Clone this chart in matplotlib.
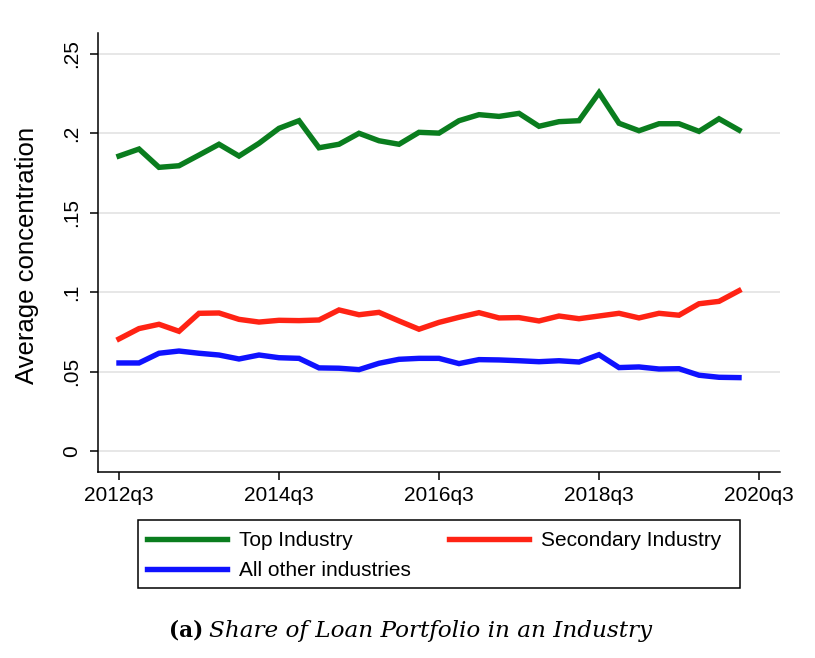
import numpy as np
import pandas as pd
import matplotlib
matplotlib.use("Agg")
import matplotlib.pyplot as plt
from matplotlib.patches import Rectangle

## quarterly data, 2012q3 - 2020q2

quarters = [str(p).lower() for p in pd.period_range("2012Q3", periods=32, freq="Q")]

top_industry = [0.1856, 0.1900, 0.1785, 0.1795, 0.1862, 0.1930, 0.1856, 0.1936,
                0.2030, 0.2078, 0.1908, 0.1930, 0.1999, 0.1952, 0.1930, 0.2005,
                0.2000, 0.2078, 0.2116, 0.2105, 0.2124, 0.2043, 0.2072, 0.2078,
                0.2254, 0.2062, 0.2015, 0.2059, 0.2059, 0.2011, 0.2090, 0.2019]

secondary_industry = [0.0707, 0.0772, 0.0799, 0.0755, 0.0868, 0.0870, 0.0830, 0.0813,
                      0.0824, 0.0822, 0.0826, 0.0889, 0.0859, 0.0874, 0.0820, 0.0768,
                      0.0811, 0.0843, 0.0872, 0.0839, 0.0841, 0.0820, 0.0851, 0.0834,
                      0.0851, 0.0868, 0.0839, 0.0868, 0.0856, 0.0928, 0.0943, 0.1010]

other_industries = [0.0556, 0.0556, 0.0617, 0.0631, 0.0617, 0.0606, 0.0581, 0.0606,
                    0.0589, 0.0585, 0.0525, 0.0523, 0.0514, 0.0554, 0.0579, 0.0585,
                    0.0585, 0.0552, 0.0577, 0.0575, 0.0570, 0.0564, 0.0570, 0.0562,
                    0.0608, 0.0527, 0.0531, 0.0518, 0.0520, 0.0479, 0.0466, 0.0464]

xtick_labels = ["2012q3", "2014q3", "2016q3", "2018q3", "2020q3"]
ytick_vals = [0, 0.05, 0.1, 0.15, 0.2, 0.25]
ytick_labels = ["0", ".05", ".1", ".15", ".2", ".25"]

## plot

plt.rcParams["font.family"] = ["Liberation Sans", "DejaVu Sans"]

fig = plt.figure(figsize=(8.15, 6.58), dpi=100)
ax = fig.add_axes([98/815, 186/658, 682/815, 439/658])

x = np.arange(len(quarters))
lw = 3.9
l_top, = ax.plot(x, top_industry, color="#0a7d1e", lw=lw, solid_joinstyle="miter")
l_sec, = ax.plot(x, secondary_industry, color="#ff2314", lw=lw, solid_joinstyle="miter")
l_oth, = ax.plot(x, other_industries, color="#0f12ff", lw=lw, solid_joinstyle="miter")

ax.set_xlim(-1.05, 33.05)
ax.set_ylim(-0.0129, 0.2629)

ax.set_xticks([0, 8, 16, 24, 32])
ax.set_xticklabels(xtick_labels, fontsize=15)
ax.set_yticks(ytick_vals)
ax.set_yticklabels(ytick_labels, fontsize=15, rotation=90, va="center")

ax.yaxis.grid(True, color="#e3e3e3", lw=1.2)
ax.set_axisbelow(True)
ax.spines["top"].set_visible(False)
ax.spines["right"].set_visible(False)
ax.spines["left"].set_linewidth(1.1)
ax.spines["bottom"].set_linewidth(1.1)
ax.tick_params(axis="both", length=6, width=1.1, direction="out")
ax.tick_params(axis="x", pad=4)
ax.tick_params(axis="y", pad=6)

fig.text(27/815, 1 - 255/658, "Average concentration", rotation=90,
         ha="center", va="center", fontsize=18.5)

# legend box drawn separately so its size matches
fig.patches.append(Rectangle((138/815, 1 - 588/658), 602/815, 68/658,
                             transform=fig.transFigure, fill=False,
                             edgecolor="black", lw=1.1))
leg = fig.legend([l_top, l_oth, l_sec],
                 ["Top Industry", "All other industries", "Secondary Industry"],
                 ncol=2, loc="upper left",
                 bbox_to_anchor=(147/815, 1 - 531/658),
                 fontsize=15, handlelength=3.85, handletextpad=0.55,
                 labelspacing=0.55, columnspacing=1.85, borderpad=0,
                 borderaxespad=0, frameon=False)

# caption: bold "(a)" + italic title
fig.text(169/815, 1 - 637/658, "(a)", fontsize=15.5, fontweight="bold",
         family=["DejaVu Serif"], va="baseline")
fig.text(209/815, 1 - 637/658, "Share of Loan Portfolio in an Industry", fontsize=16.7,
         fontstyle="italic", family=["DejaVu Serif"], va="baseline")

fig.savefig("out.png", dpi=100)
